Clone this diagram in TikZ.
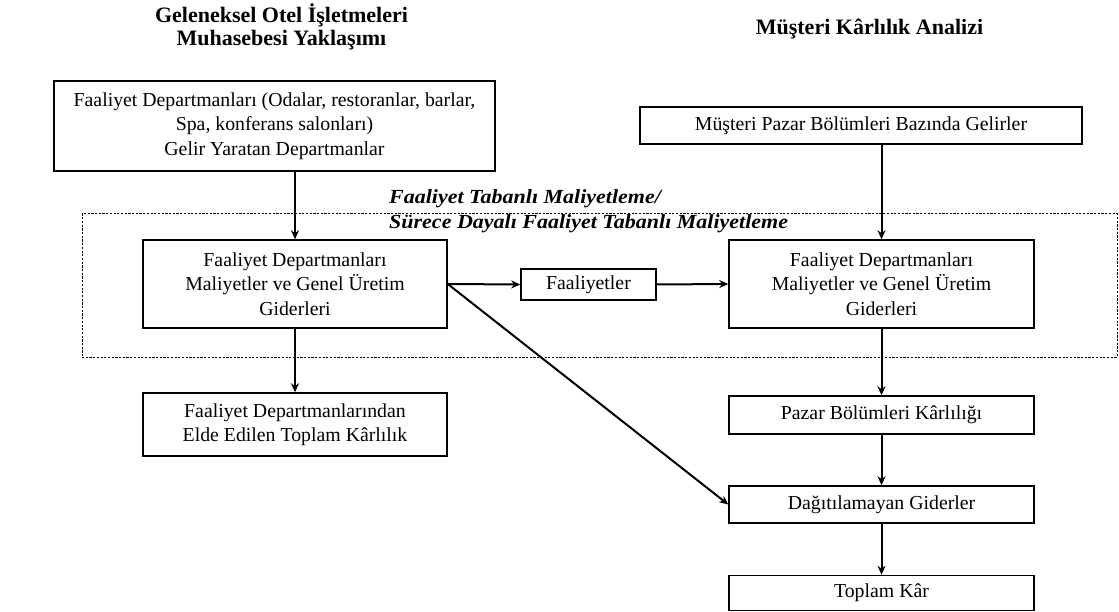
\documentclass[tikz,border=0pt]{standalone}
\usepackage{fontspec}
\setmainfont{Liberation Serif}
% slightly widened face for the costing-method label
\newfontfamily\widelabelfont{Liberation Serif}[FakeStretch=1.1]
\usetikzlibrary{arrows.meta}
\begin{document}
\begin{tikzpicture}[x=1pt,y=-1pt,
  box/.style={draw, line width=1.5pt, align=center, inner sep=0pt,
    font=\fontsize{19.8}{24.5}\selectfont},
  title/.style={align=center, font=\fontsize{22}{23}\selectfont\bfseries},
  link/.style={line width=2pt, -{Stealth[length=9pt,width=8pt]}},
  region/.style={draw, line width=1pt, dash pattern=on 2.2pt off 1.5pt}]
\useasboundingbox (0,0) rectangle (1119,612);

% column headings (anchored on the baseline of the last line)
\node[title, anchor=base] (tl) at (281.5,46) {Geleneksel Otel İşletmeleri\\Muhasebesi Yaklaşımı};
\node[title, anchor=base] (tr) at (869.5,35) {Müşteri Kârlılık Analizi};

% activity-based costing region
\node[region, minimum width=1035pt, minimum height=143pt, inner sep=0pt] (abc) at (599.5,285.5) {};
\node[anchor=base west, align=left, inner sep=0pt,
  font=\widelabelfont\fontsize{20}{25}\selectfont\bfseries\itshape] (abcl) at (389,229)
  {Faaliyet Tabanlı Maliyetleme/\\Sürece Dayalı Faaliyet Tabanlı Maliyetleme};

% boxes
\node[box, minimum width=441pt, minimum height=90pt] (a) at (274.5,126)
  {Faaliyet Departmanları (Odalar, restoranlar, barlar,\\Spa, konferans salonları)\\Gelir Yaratan Departmanlar};
\node[box, minimum width=442pt, minimum height=37pt] (b) at (861,125.5)
  {Müşteri Pazar Bölümleri Bazında Gelirler};
\node[box, minimum width=304pt, minimum height=88pt] (c) at (295,284)
  {Faaliyet Departmanları\\Maliyetler ve Genel Üretim\\Giderleri};
\node[box, minimum width=135pt, minimum height=31pt] (f) at (588.5,284.5)
  {Faaliyetler};
\node[box, minimum width=305pt, minimum height=88pt] (d) at (881.5,284)
  {Faaliyet Departmanları\\Maliyetler ve Genel Üretim\\Giderleri};
\node[box, minimum width=304pt, minimum height=63pt] (e) at (295,424.5)
  {Faaliyet Departmanlarından\\Elde Edilen Toplam Kârlılık};
\node[box, minimum width=305pt, minimum height=38pt] (p) at (881.5,415)
  {Pazar Bölümleri Kârlılığı};
\node[box, minimum width=305pt, minimum height=37pt] (g) at (881.5,504.5)
  {Dağıtılamayan Giderler};
\node[box, minimum width=305pt, minimum height=35pt] (h) at (881.5,593)
  {Toplam Kâr};

% connectors
\draw[link] (c.north |- a.south) -- (c.north);
\draw[link] (d.north |- b.south) -- (d.north);
\draw[link] (c.east) -- (f.west);
\draw[link] (f.west -| f.east) -- (d.west);
\draw[link] (c.east) -- (g.west);
\draw[link] (c.south) -- (e.north);
\draw[link] (d.south) -- (p.north);
\draw[link] (p.south) -- (g.north);
\draw[link] (g.south) -- (h.north);
\end{tikzpicture}
\end{document}
